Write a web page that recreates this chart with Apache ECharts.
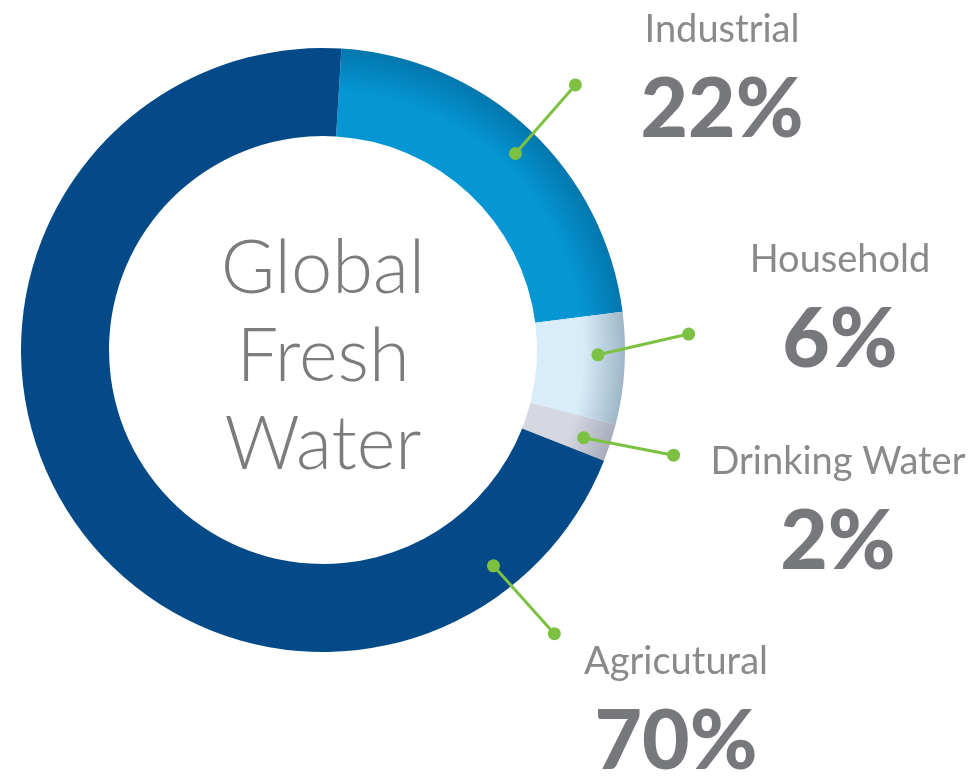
<!DOCTYPE html>
<html>
<head>
<meta charset="utf-8">
<script src="https://cdn.jsdelivr.net/npm/echarts@6/dist/echarts.min.js"></script>
<style>
  html, body { margin: 0; padding: 0; background: #ffffff; }
  #chart { width: 980px; height: 776px; }
</style>
</head>
<body>
<div id="chart"></div>
<script>
// ---- data ----
const categories = ['Industrial', 'Household', 'Drinking Water', 'Agricutural'];
const shares = [22, 6, 2, 70];
const centerTitle = ['Global', 'Fresh', 'Water'];

// ---- style / layout ----
const sliceColors = ['#0596d3', '#d8edf9', '#d5d7e1', '#054a88'];
const sliceEdge = ['#0377ad', '#9fb6c8', '#a9adbc', '#043f76'];
const CX = 323, CY = 350, R_IN = 214, R_OUT = 302;
const START_ANGLE = 86.5; // ECharts degrees (90 = 12 o'clock)
const labelPos = [
  { x: 722, y: 4 },
  { x: 840, y: 234 },
  { x: 838, y: 436 },
  { x: 676, y: 636 }
];
// leader line anchor angles (degrees clockwise from 12 o'clock)
const leaderInner = [44.4, 91, 108.6, 141.7];
const leaderOuter = [43.6, 87.5, 106.7, 140.8];
const LEADER_R_IN = 275, LEADER_R_OUT = 366;
const GREEN = '#7cc142';
const FONT = 'Lato, "Noto Sans", sans-serif';

const chart = echarts.init(document.getElementById('chart'), null, { renderer: 'canvas' });

function sliceColor(i) {
  if (i === 3) return sliceColors[i];
  return {
    type: 'radial', x: CX, y: CY, r: R_OUT, global: true,
    colorStops: [
      { offset: 0, color: sliceColors[i] },
      { offset: 0.86, color: sliceColors[i] },
      { offset: 1, color: sliceEdge[i] }
    ]
  };
}

const pieData = categories.map((name, i) => ({
  name: name,
  value: shares[i],
  itemStyle: { color: sliceColor(i) }
}));

function polar(deg, r) {
  const a = deg * Math.PI / 180;
  return [CX + r * Math.sin(a), CY - r * Math.cos(a)];
}

const leaderGraphics = [];
categories.forEach((c, i) => {
  const p1 = polar(leaderInner[i], LEADER_R_IN);
  const p2 = polar(leaderOuter[i], LEADER_R_OUT);
  leaderGraphics.push({
    type: 'line', z: 100,
    shape: { x1: p1[0], y1: p1[1], x2: p2[0], y2: p2[1] },
    style: { stroke: GREEN, lineWidth: 3 }
  });
  [p1, p2].forEach(p => leaderGraphics.push({
    type: 'circle', z: 101,
    shape: { cx: p[0], cy: p[1], r: 6.5 },
    style: { fill: GREEN }
  }));
});

const option = {
  backgroundColor: '#ffffff',
  animation: false,
  series: [{
    type: 'pie',
    center: [CX, CY],
    radius: [R_IN, R_OUT],
    startAngle: START_ANGLE,
    clockwise: true,
    avoidLabelOverlap: false,
    emphasis: { disabled: true },
    silent: true,
    data: pieData,
    labelLine: { show: false },
    label: {
      show: true,
      position: 'outside',
      formatter: '{n|{b}}\n{p|{c}%}',
      rich: {
        n: { fontFamily: FONT, fontSize: 38, fontWeight: 400, color: '#8a8a8c', lineHeight: 52, align: 'center' },
        p: { fontFamily: FONT, fontSize: 82, fontWeight: 900, color: '#77787b', lineHeight: 110, align: 'center' }
      }
    },
    labelLayout: function (params) {
      const p = labelPos[params.dataIndex];
      return { x: p.x, y: p.y, align: 'center', verticalAlign: 'top', hideOverlap: false };
    }
  }],
  graphic: [
    {
      type: 'text', x: CX, y: CY + 7, z: 50,
      style: {
        text: centerTitle.join('\n'),
        fontFamily: FONT, fontSize: 74, fontWeight: 300, lineHeight: 88,
        fill: '#7c7c7c',
        align: 'center', verticalAlign: 'middle',
        textAlign: 'center', textVerticalAlign: 'middle'
      }
    }
  ].concat(leaderGraphics)
};

chart.setOption(option);
</script>
</body>
</html>
